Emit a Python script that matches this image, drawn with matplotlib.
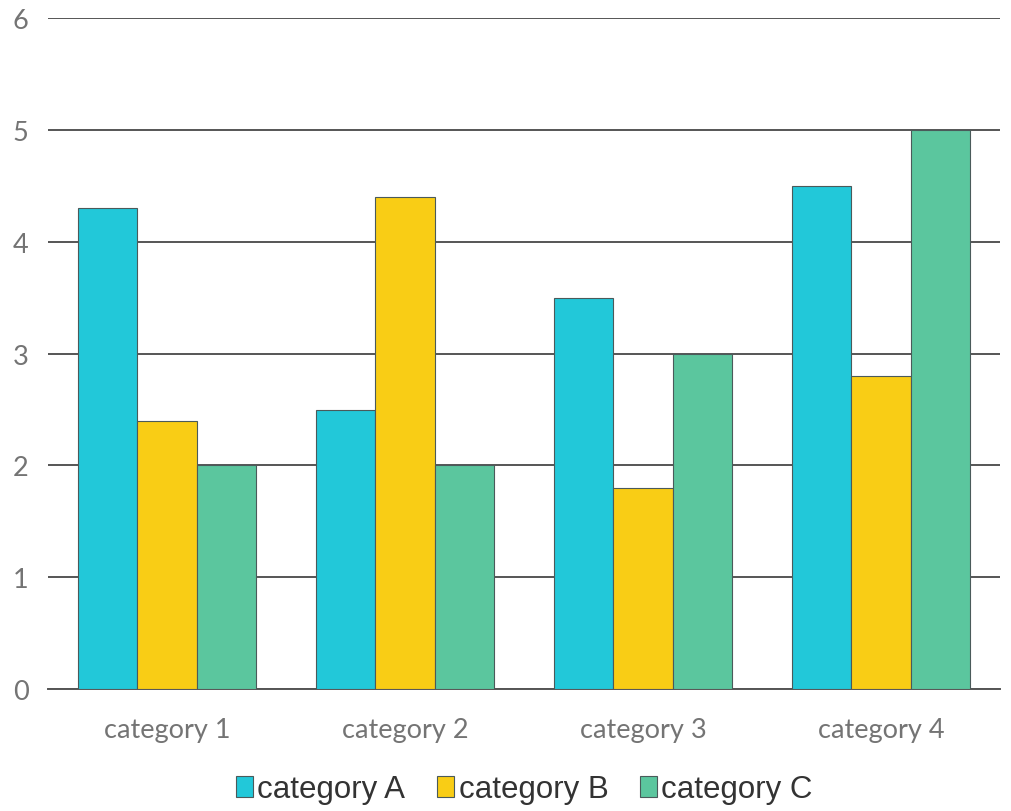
import matplotlib
matplotlib.use("Agg")
import matplotlib.pyplot as plt
import numpy as np

categories = ["category 1", "category 2", "category 3", "category 4"]
series_names = ["category A", "category B", "category C"]
values_a = [4.3, 2.5, 3.5, 4.5]
values_b = [2.4, 4.4, 1.8, 2.8]
values_c = [2.0, 2.0, 3.0, 5.0]
y_ticks = [0, 1, 2, 3, 4, 5, 6]

colors = ["#22C8D9", "#F9CD15", "#5BC69E"]
series = [values_a, values_b, values_c]

fig = plt.figure(figsize=(10.12, 8.12), dpi=100)
ax = fig.add_axes([0.0474, 0.150, 0.9406, 0.8266])

x = np.arange(len(categories))
width = 0.25
for i, (vals, col, name) in enumerate(zip(series, colors, series_names)):
    ax.bar(x + (i - 1) * width, vals, width, color=col, edgecolor="#4a5a5a",
           linewidth=0.8, label=name, zorder=3)

ax.set_xlim(-0.5, len(categories) - 0.5)
ax.set_ylim(0, 6)
ax.set_yticks(y_ticks)
ax.yaxis.grid(True, color="#555555", linewidth=1.4, zorder=0)
ax.set_axisbelow(True)
for s in ["left", "right", "top"]:
    ax.spines[s].set_visible(False)
ax.spines["bottom"].set_color("#555555")
ax.spines["bottom"].set_linewidth(1.4)
ax.tick_params(axis="both", length=0)
ax.tick_params(axis="y", pad=14)
ax.tick_params(axis="x", pad=20)
ax.set_xticks(x)
ax.set_xticklabels(categories)
for lab in ax.get_xticklabels() + ax.get_yticklabels():
    lab.set_fontfamily("Lato")
    lab.set_fontweight("normal")
    lab.set_fontsize(19.5)
    lab.set_color("#747474")

leg = fig.legend(loc="center", bbox_to_anchor=(0.518, 0.027), ncol=3, frameon=False,
                 prop={"family": "Liberation Sans", "size": 22.5},
                 handlelength=0.55, handleheight=0.65, handletextpad=0.15,
                 columnspacing=1.0)
for t in leg.get_texts():
    t.set_color("#333333")

fig.savefig("out.png", dpi=100)
